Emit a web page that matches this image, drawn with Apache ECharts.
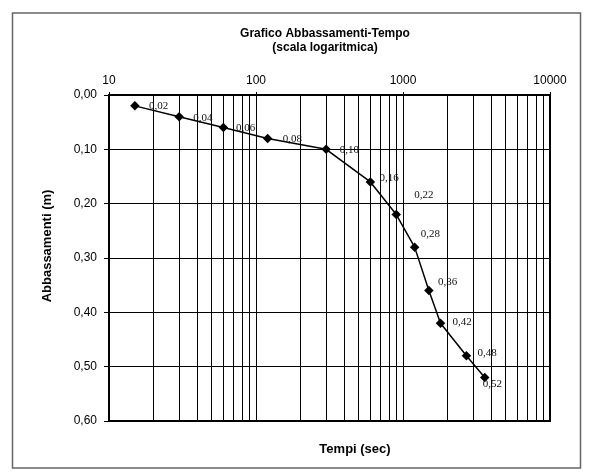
<!DOCTYPE html>
<html>
<head>
<meta charset="utf-8">
<script src="https://cdn.jsdelivr.net/npm/echarts@6/dist/echarts.min.js"></script>
<style>
html,body{margin:0;padding:0;background:#fff;}
#c{width:591px;height:475px;}
</style>
</head>
<body>
<div id="c"></div>
<script>
// ---- data ----
const tempi = [15, 30, 60, 120, 300, 600, 900, 1200, 1500, 1800, 2700, 3600];
const abbassamenti = [0.02, 0.04, 0.06, 0.08, 0.10, 0.16, 0.22, 0.28, 0.36, 0.42, 0.48, 0.52];
const xTicks = [10, 100, 1000, 10000];
const yTicks = [0.0, 0.1, 0.2, 0.3, 0.4, 0.5, 0.6];
const titleText = 'Grafico Abbassamenti-Tempo\n(scala logaritmica)';
const xTitle = 'Tempi (sec)';
const yTitle = 'Abbassamenti (m)';

// label nudges (style only): [dx from point centre to label left, dy]
const labelNudge = [[14,0],[14,1],[12.5,1],[15,1],[13.5,0.5],[9,-4],[18,-19],[6,-13],[9,-8],[12,-1],[11,-3],[-2,7]];

const SYM = 9.5;
const fmt = v => v.toFixed(2).replace('.', ',');

// minor vertical gridlines at 2..9 x each decade
const minorLines = [];
for (let d = 0; d < xTicks.length - 1; d++) {
  for (let k = 2; k <= 9; k++) minorLines.push({ xAxis: xTicks[d] * k });
}

const seriesData = tempi.map((t, i) => ({
  value: [t, abbassamenti[i]],
  label: { offset: [labelNudge[i][0] - SYM / 2, labelNudge[i][1]] }
}));

const chart = echarts.init(document.getElementById('c'), null, { renderer: 'canvas' });
chart.setOption({
  backgroundColor: '#fff',
  animation: false,
  textStyle: { fontFamily: 'Liberation Sans, Arial, sans-serif' },
  title: [
    {
      text: titleText,
      left: 320, top: 22, textAlign: 'center',
      textStyle: { fontSize: 12, fontWeight: 'bold', color: '#000', lineHeight: 14, fontFamily: 'Liberation Sans, Arial, sans-serif' }
    },
    {
      text: xTitle,
      left: 350, top: 438, textAlign: 'center',
      textStyle: { fontSize: 13, fontWeight: 'bold', color: '#000', fontFamily: 'Liberation Sans, Arial, sans-serif' }
    }
  ],
  graphic: [
    {
      type: 'rect', z: -10,
      shape: { x: 12.5, y: 13, width: 568, height: 455 },
      style: { fill: 'none', stroke: '#666', lineWidth: 1.5 }
    },
    {
      type: 'text', x: 47, y: 246, rotation: Math.PI / 2,
      style: { text: yTitle, fontSize: 13, fontWeight: 'bold', fill: '#000', align: 'center', verticalAlign: 'middle', fontFamily: 'Liberation Sans, Arial, sans-serif' }
    }
  ],
  grid: { left: 109, right: 41, top: 95, bottom: 54, show: true, borderColor: '#000', borderWidth: 2, backgroundColor: 'transparent' },
  xAxis: {
    type: 'log', logBase: 10, min: xTicks[0], max: xTicks[xTicks.length - 1],
    position: 'top',
    axisLine: { show: true, lineStyle: { color: '#000', width: 2 } },
    axisTick: { show: true, inside: false, length: 3, lineStyle: { color: '#000' } },
    axisLabel: { fontSize: 12, color: '#000', margin: 8, formatter: v => String(Math.round(v)), fontFamily: 'Liberation Sans, Arial, sans-serif' },
    splitLine: { show: true, lineStyle: { color: '#000', width: 1 } },
    minorTick: { show: false }, minorSplitLine: { show: false }
  },
  yAxis: {
    type: 'value', inverse: true, min: yTicks[0], max: yTicks[yTicks.length - 1], interval: 0.1,
    axisLine: { show: true, lineStyle: { color: '#000', width: 2 } },
    axisTick: { show: true, inside: false, length: 5, lineStyle: { color: '#000' } },
    axisLabel: { fontSize: 12, color: '#000', margin: 12, formatter: v => fmt(v), fontFamily: 'Liberation Sans, Arial, sans-serif' },
    splitLine: { show: true, lineStyle: { color: '#000', width: 1 } }
  },
  series: [{
    type: 'line',
    data: seriesData,
    symbol: 'diamond', symbolSize: SYM,
    itemStyle: { color: '#000' },
    lineStyle: { color: '#000', width: 1.5 },
    label: {
      show: true, position: 'right', distance: 0,
      formatter: p => fmt(p.value[1]),
      fontFamily: 'Liberation Serif, Times New Roman, serif', fontSize: 11, color: '#111',
      verticalAlign: 'middle'
    },
    markLine: {
      silent: true, symbol: ['none', 'none'], animation: false,
      label: { show: false },
      lineStyle: { color: '#000', width: 1, type: 'solid' },
      emphasis: { disabled: true },
      data: minorLines
    },
    z: 5
  }]
});
</script>
</body>
</html>
